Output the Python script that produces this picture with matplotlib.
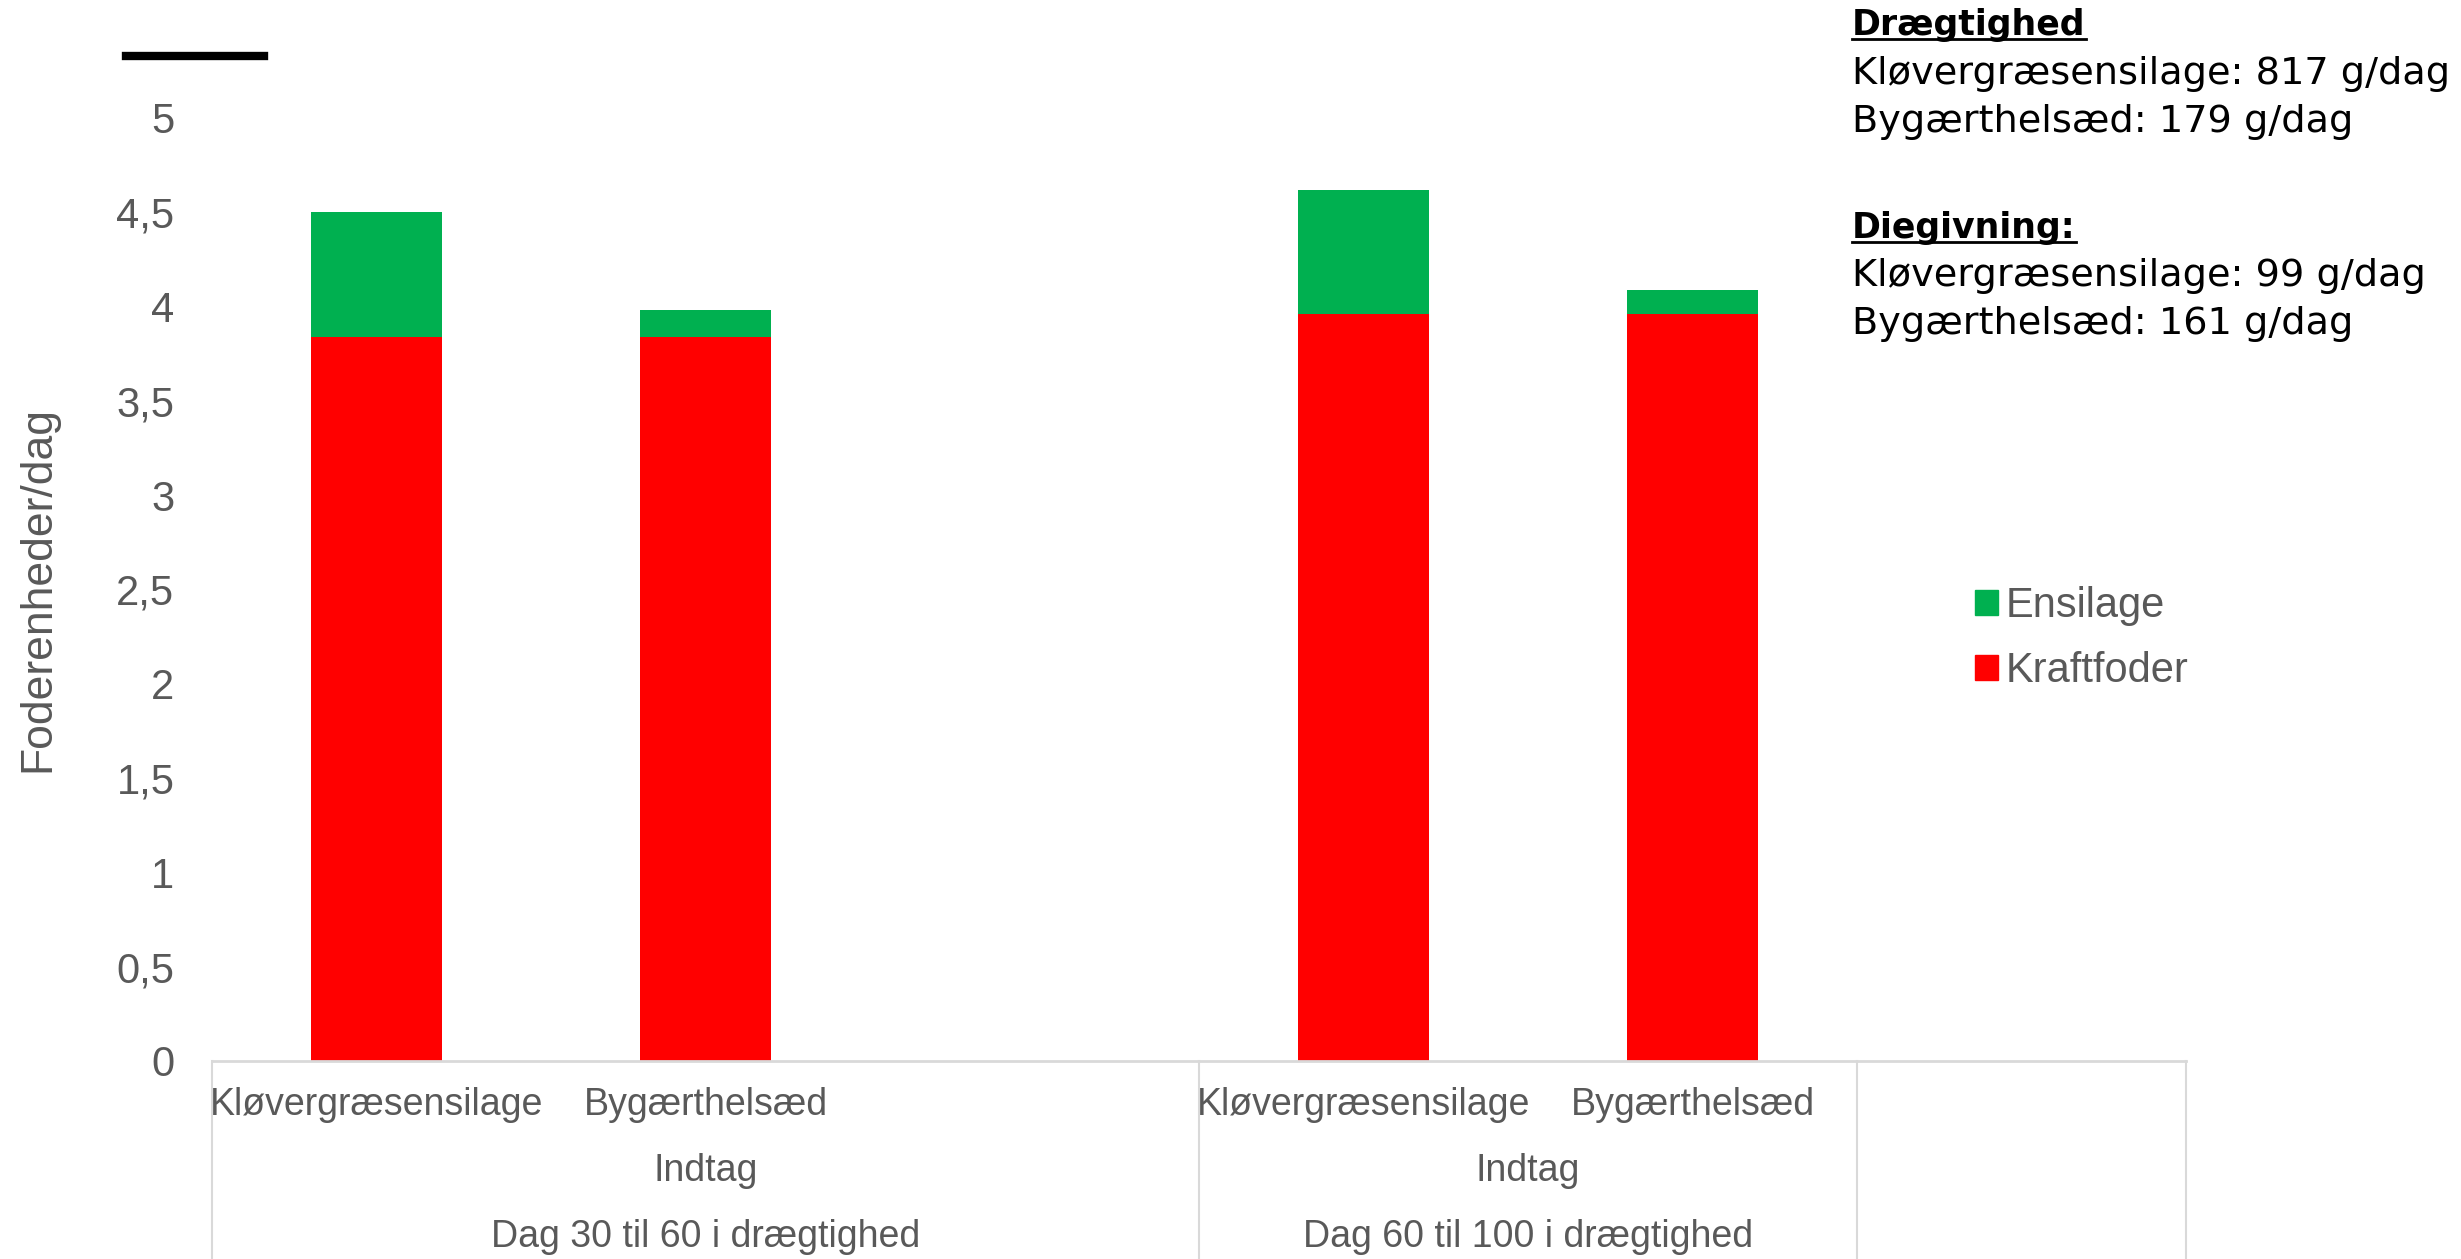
import matplotlib.pyplot as plt
from matplotlib.patches import Patch
from matplotlib.transforms import blended_transform_factory

# Data
feeds = ["Kløvergræsensilage", "Bygærthelsæd", "Kløvergræsensilage", "Bygærthelsæd"]
slots = [0, 1, 3, 4]
kraftfoder = [3.84, 3.84, 3.96, 3.96]
ensilage = [0.66, 0.14, 0.66, 0.13]
groups = ["Dag 30 til 60 i drægtighed", "Dag 60 til 100 i drægtighed"]
group_centers = [1, 3.5]
sub_label = "Indtag"
yticks = [0, 0.5, 1, 1.5, 2, 2.5, 3, 3.5, 4, 4.5, 5]
ytick_labels = [str(v).replace(".", ",").replace(",0", "") for v in yticks]

notes_1 = ["Kløvergræsensilage: 817 g/dag", "Bygærthelsæd: 179 g/dag"]
notes_2 = ["Kløvergræsensilage: 99 g/dag", "Bygærthelsæd: 161 g/dag"]

GREEN = "#00B050"
RED = "#FF0000"
GREY = "#595959"
LINE = "#D9D9D9"

plt.rcParams["font.family"] = ["Liberation Sans", "DejaVu Sans"]

fig = plt.figure(figsize=(24.61, 12.59), dpi=100)
ax = fig.add_axes([0.0861, 0.1573, 0.8022, 0.749])

ax.bar(slots, kraftfoder, width=0.4, color=RED)
ax.bar(slots, ensilage, width=0.4, bottom=kraftfoder, color=GREEN)

ax.set_xlim(-0.5, 5.5)
ax.set_ylim(0, 5)
ax.set_yticks(yticks)
ax.set_yticklabels(ytick_labels)
ax.tick_params(axis="y", length=0, pad=27, labelsize=30, labelcolor=GREY)
ax.set_xticks([])
for s in ["top", "right", "left"]:
    ax.spines[s].set_visible(False)
ax.spines["bottom"].set_color(LINE)
ax.spines["bottom"].set_linewidth(2)

ax.set_ylabel("Foderenheder/dag", fontsize=32, color=GREY)
ax.yaxis.set_label_coords(-0.078, 0.5)

# category labels below the axis
trans = blended_transform_factory(ax.transData, fig.transFigure)
for x, name in zip(slots, feeds):
    ax.text(x, 1 - 1105 / 1259, name, transform=trans, ha="center", va="center",
            fontsize=27, color=GREY, clip_on=False)
for x, g in zip(group_centers, groups):
    ax.text(x, 1 - 1171 / 1259, sub_label, transform=trans, ha="center", va="center",
            fontsize=27, color=GREY, clip_on=False)
    ax.text(x, 1 - 1237 / 1259, g, transform=trans, ha="center", va="center",
            fontsize=27, color=GREY, clip_on=False)
for x in [-0.5, 2.5, 4.5, 5.5]:
    ax.plot([x, x], [0, 1 - 1061 / 1259], transform=trans, color=LINE,
            lw=1.5, clip_on=False)

# legend
handles = [Patch(color=GREEN, label="Ensilage"), Patch(color=RED, label="Kraftfoder")]
fig.legend(handles=handles, loc="center left", bbox_to_anchor=(0.7872, 0.493),
           frameon=False, fontsize=30, labelcolor=GREY, handlelength=0.55,
           handleheight=0.55, handletextpad=0.2, labelspacing=0.6)

# stray black line top-left
fig.add_artist(plt.Line2D([126 / 2461, 264 / 2461], [1 - 56 / 1259, 1 - 56 / 1259],
                          color="black", lw=6))

# notes top right
nx = 0.7526
heads = []
heads.append(fig.text(nx, 1 - 25 / 1259, "Drægtighed", fontsize=25, fontweight="bold",
                      family="DejaVu Sans", va="center"))
for i, t in enumerate(notes_1):
    fig.text(nx, 1 - (74 + 48.5 * i) / 1259, t, fontsize=27.5, family="DejaVu Sans", va="center")
heads.append(fig.text(nx, 1 - 228 / 1259, "Diegivning:", fontsize=25, fontweight="bold",
                      family="DejaVu Sans", va="center"))
for i, t in enumerate(notes_2):
    fig.text(nx, 1 - (276 + 48.5 * i) / 1259, t, fontsize=27.5, family="DejaVu Sans", va="center")

# underline the headings
fig.canvas.draw()
r = fig.canvas.get_renderer()
inv = fig.transFigure.inverted()
for h in heads:
    bb = h.get_window_extent(r)
    (x0, y0), (x1, y1) = inv.transform([[bb.x0, bb.y0], [bb.x1, bb.y1]])
    fig.add_artist(plt.Line2D([x0, x1], [y0 + 0.002, y0 + 0.002], color="black", lw=2))

fig.savefig("out.png", dpi=100)
